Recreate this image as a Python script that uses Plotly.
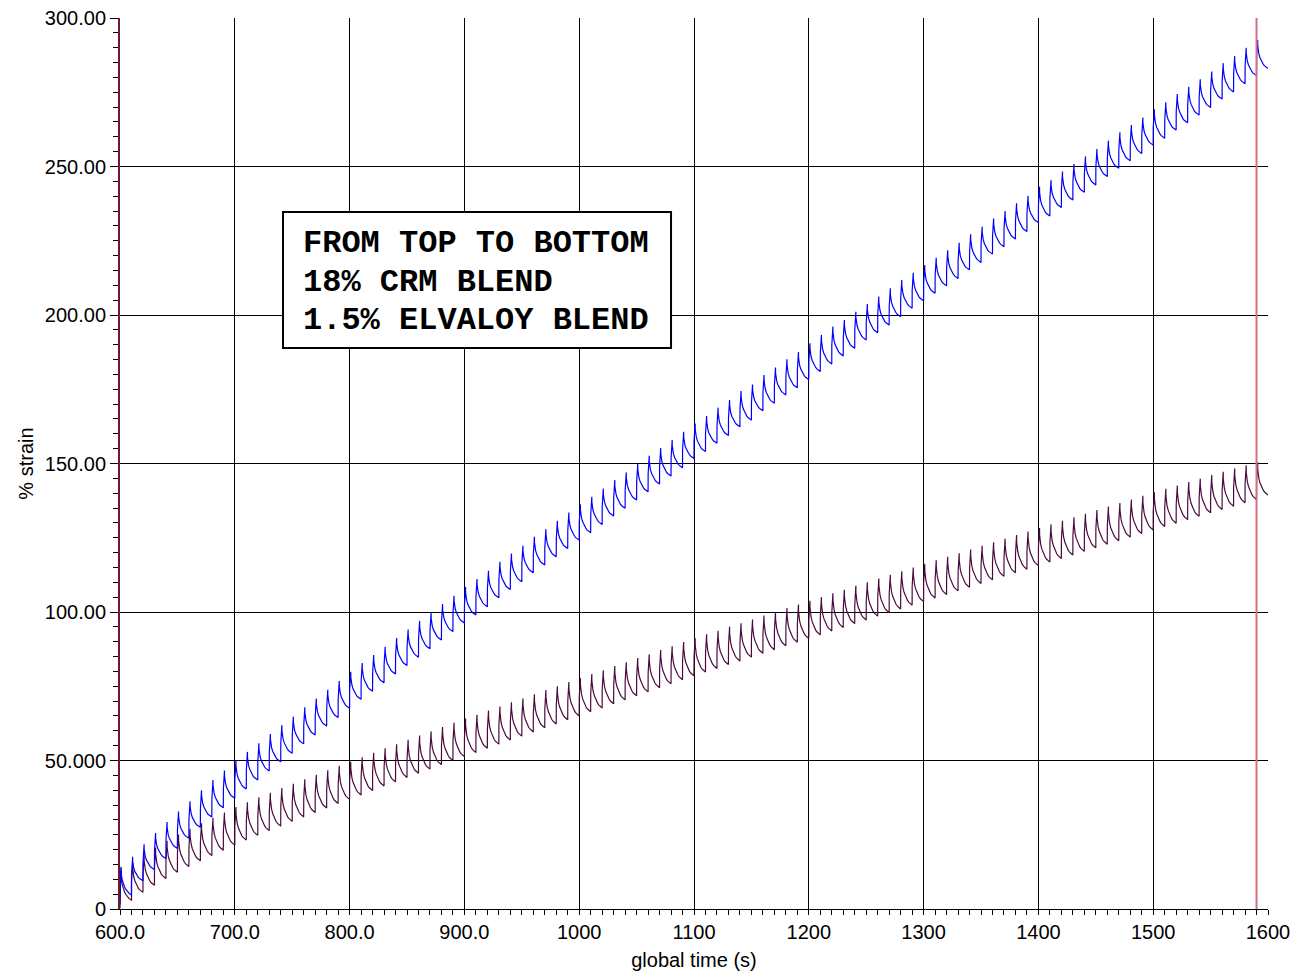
import plotly.graph_objects as go

# ---------------- data ----------------
cycle_start = [600 + 10 * k for k in range(100)]  # start time of each 10 s load/recovery cycle
end_time = 1600

# 18% CRM blend (blue): strain at start of each cycle, and peak strain after 1 s loading
crm_trough = [
    1.5, 4.8, 9.5, 13.3, 17.0, 20.4, 23.8, 27.5, 31.0, 34.1,
    37.3, 40.4, 43.4, 46.5, 49.6, 52.4, 55.6, 58.6, 61.6, 64.5,
    67.6, 70.6, 73.3, 76.2, 79.1, 82.0, 84.8, 87.6, 90.6, 93.4,
    96.3, 99.0, 101.8, 104.8, 107.6, 110.2, 113.2, 115.8, 118.6, 121.4,
    124.2, 126.7, 129.5, 132.3, 134.9, 137.7, 140.5, 143.1, 145.8, 148.6,
    151.7, 154.0, 156.8, 159.4, 162.4, 164.6, 167.8, 170.3, 173.1, 175.5,
    178.3, 181.0, 183.5, 186.2, 188.8, 191.6, 194.0, 196.6, 199.4, 202.3,
    204.8, 207.3, 209.8, 212.3, 215.2, 217.7, 220.5, 223.0, 225.6, 228.1,
    231.1, 233.3, 236.2, 238.7, 241.3, 243.8, 246.6, 249.4, 251.9, 254.4,
    257.2, 259.5, 262.3, 264.7, 267.3, 269.9, 272.7, 275.1, 277.9, 280.6,
]
crm_end = 283.0
crm_peak = [
    14.2, 17.6, 21.8, 25.6, 29.3, 32.8, 36.3, 40.0, 43.4, 46.6,
    50.0, 52.9, 55.8, 58.9, 61.9, 64.7, 67.9, 70.9, 73.8, 76.8,
    79.9, 82.8, 85.5, 88.3, 91.2, 94.1, 97.0, 99.7, 102.7, 105.5,
    108.4, 111.1, 113.9, 116.9, 119.7, 122.3, 125.3, 127.9, 130.7, 133.5,
    136.3, 138.8, 141.6, 144.4, 147.0, 149.8, 152.6, 155.2, 157.9, 160.7,
    163.5, 166.0, 168.8, 171.4, 174.4, 176.6, 179.8, 182.3, 185.1, 187.5,
    190.5, 193.3, 196.1, 198.3, 201.1, 203.7, 206.2, 209.0, 211.8, 214.2,
    216.8, 219.3, 221.8, 224.3, 227.2, 229.7, 232.5, 235.0, 237.6, 240.1,
    243.2, 245.4, 248.3, 250.8, 253.4, 255.9, 258.7, 261.5, 264.0, 266.5,
    269.3, 271.6, 274.4, 276.8, 279.4, 282.0, 284.8, 287.2, 290.0, 292.6,
]

# 1.5% Elvaloy blend (dark purple)
elv_trough = [
    0.2, 3.0, 5.6, 8.0, 10.3, 12.4, 14.3, 16.2, 18.0, 19.8,
    21.5, 23.2, 24.8, 26.4, 27.9, 29.5, 31.0, 32.5, 34.0, 35.5,
    36.9, 38.4, 39.9, 41.4, 42.8, 44.3, 45.7, 47.1, 48.6, 50.0,
    51.3, 52.7, 54.1, 55.5, 56.9, 58.2, 59.6, 61.0, 62.3, 63.7,
    65.0, 66.4, 67.7, 69.1, 70.4, 71.8, 73.1, 74.5, 75.8, 77.2,
    78.5, 79.8, 81.0, 82.3, 83.5, 84.8, 86.1, 87.3, 88.6, 89.8,
    91.1, 92.3, 93.6, 94.8, 96.1, 97.3, 98.6, 99.8, 101.0, 102.3,
    103.5, 104.7, 105.9, 107.1, 108.3, 109.6, 110.8, 112.0, 113.2, 114.4,
    115.6, 116.8, 118.0, 119.2, 120.4, 121.6, 122.8, 124.0, 125.2, 126.4,
    127.6, 128.8, 129.9, 131.1, 132.2, 133.4, 134.5, 135.6, 136.8, 137.9,
]
elv_end = 139.4
elv_peak = [
    12.8, 15.7, 18.3, 20.7, 23.0, 25.1, 27.0, 28.9, 30.7, 32.5,
    34.3, 35.9, 37.6, 39.1, 40.7, 42.2, 43.7, 45.2, 46.7, 48.2,
    49.6, 51.1, 52.6, 54.1, 55.5, 57.0, 58.4, 59.8, 61.3, 62.7,
    64.1, 65.4, 66.8, 68.2, 69.6, 70.9, 72.3, 73.7, 75.0, 76.4,
    77.8, 79.1, 80.4, 81.8, 83.1, 84.5, 85.8, 87.2, 88.5, 89.9,
    91.2, 92.5, 93.7, 95.0, 96.2, 97.5, 98.8, 100.0, 101.3, 102.5,
    103.8, 105.0, 106.3, 107.5, 108.8, 110.0, 111.3, 112.5, 113.7, 115.0,
    116.2, 117.4, 118.6, 119.8, 121.0, 122.3, 123.5, 124.7, 125.9, 127.1,
    128.3, 129.5, 130.7, 131.9, 133.1, 134.3, 135.5, 136.7, 137.9, 139.1,
    140.3, 141.5, 142.6, 143.8, 144.9, 146.1, 147.2, 148.3, 149.4, 150.3,
]

# within-cycle shape (seconds after cycle start, fraction)
load_t = [0.0, 0.05, 0.3, 0.6, 1.0]
load_frac = [0.0, 0.5, 0.78, 0.92, 1.0]
recov_t = [1.05, 1.3, 2.0, 3.0, 4.0, 5.0, 6.0, 7.0, 8.0, 9.0, 10.0]
recov_frac = [0.8, 0.68, 0.52, 0.38, 0.28, 0.2, 0.14, 0.09, 0.05, 0.02, 0.0]

x_ticks = [600, 700, 800, 900, 1000, 1100, 1200, 1300, 1400, 1500, 1600]
x_ticktext = ["600.0", "700.0", "800.0", "900.0", "1000", "1100", "1200", "1300", "1400", "1500", "1600"]
y_ticks = [0, 50, 100, 150, 200, 250, 300]
y_ticktext = ["0", "50.000", "100.00", "150.00", "200.00", "250.00", "300.00"]

cursor_time = 1590
label_lines = ["FROM TOP TO BOTTOM", "18% CRM BLEND", "1.5% ELVALOY BLEND"]


def build(troughs, peaks, final):
    xs, ys = [], []
    n = len(cycle_start)
    for k in range(n):
        t0 = cycle_start[k]
        lo = troughs[k]
        pk = peaks[k]
        nxt = troughs[k + 1] if k + 1 < n else final
        for t, f in zip(load_t, load_frac):
            xs.append(t0 + t)
            ys.append(lo + f * (pk - lo))
        for t, f in zip(recov_t, recov_frac):
            if k + 1 < n and t >= 10.0:
                continue
            xs.append(t0 + t)
            ys.append(nxt + f * (pk - nxt))
    return xs, ys


fig = go.Figure()
bx, by = build(crm_trough, crm_peak, crm_end)
px_, py_ = build(elv_trough, elv_peak, elv_end)
fig.add_trace(go.Scatter(x=px_, y=py_, mode="lines", line=dict(color="#4a0a3e", width=1.2),
                         name="1.5% ELVALOY BLEND"))
fig.add_trace(go.Scatter(x=bx, y=by, mode="lines", line=dict(color="#0000ff", width=1.2),
                         name="18% CRM BLEND"))

font_main = "Liberation Sans, Arial, sans-serif"

fig.update_layout(
    width=1299, height=974,
    margin=dict(l=120, r=31, t=18, b=65),
    paper_bgcolor="white", plot_bgcolor="white",
    showlegend=False,
    font=dict(family=font_main, size=20, color="black"),
    xaxis=dict(
        range=[600, 1600], tickvals=x_ticks, ticktext=x_ticktext,
        automargin=False,
        showgrid=True, gridcolor="black", gridwidth=1,
        ticks="outside", ticklen=5, tickcolor="black",
        showline=True, linecolor="black", linewidth=1,
        zeroline=False,
        minor=dict(dtick=10, tick0=600, ticks="outside", ticklen=5, tickcolor="black", showgrid=False),
        title=dict(text="global time (s)", font=dict(size=20), standoff=10),
        tickfont=dict(size=20),
    ),
    yaxis=dict(
        range=[0, 300], tickvals=y_ticks, ticktext=y_ticktext,
        automargin=False,
        showgrid=True, gridcolor="black", gridwidth=1,
        ticks="outside", ticklen=8, tickcolor="black",
        showline=True, linecolor="#6e1c2a", linewidth=2,
        zeroline=False,
        minor=dict(dtick=5, tick0=0, ticks="outside", ticklen=5, tickcolor="black", showgrid=False),
        title=dict(text="% strain", font=dict(size=20), standoff=6),
        tickfont=dict(size=20),
    ),
)

# cursor line
fig.add_shape(type="line", x0=cursor_time, x1=cursor_time, y0=0, y1=1, xref="x", yref="paper",
              line=dict(color="#d4707f", width=2), layer="above")

# text box
fig.add_shape(type="rect", x0=742, x1=1080, y0=188.9, y1=234.7, xref="x", yref="y",
              line=dict(color="black", width=2), fillcolor="white", layer="above")
for line_text, yc in zip(label_lines, [224.0, 211.1, 198.2]):
    fig.add_annotation(x=757.8, y=yc, xref="x", yref="y", text="<b>" + line_text + "</b>",
                       showarrow=False, xanchor="left", yanchor="middle",
                       font=dict(family="Courier New, Liberation Mono, monospace", size=32, color="black"))

fig.write_html("out.html")
